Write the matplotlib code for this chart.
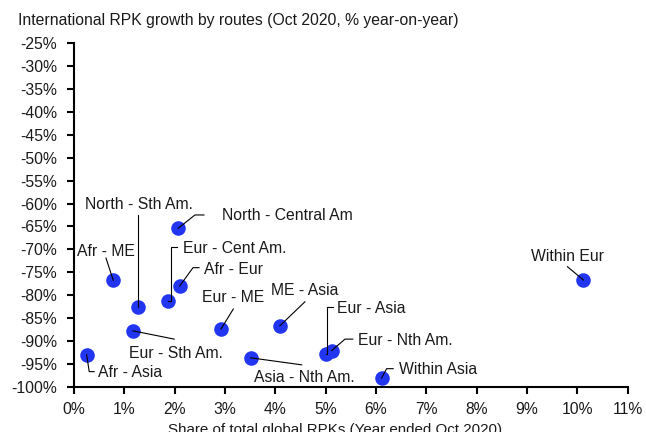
import numpy as np
import matplotlib.pyplot as plt
from matplotlib.ticker import FuncFormatter

plt.rcParams['font.family'] = ['Liberation Sans', 'DejaVu Sans']
plt.rcParams['font.size'] = 11.3

# share of global RPKs (%) and yoy growth (%)
routes = ["Afr - Asia", "Afr - ME", "North - Sth Am.", "Eur - Sth Am.",
          "Eur - Cent Am.", "Afr - Eur", "North - Central Am", "Eur - ME",
          "ME - Asia", "Asia - Nth Am.", "Eur - Asia", "Eur - Nth Am.",
          "Within Asia", "Within Eur"]
share = [0.25, 0.78, 1.28, 1.17, 1.86, 2.10, 2.07, 2.92, 4.09, 3.51, 5.01, 5.12, 6.11, 10.12]
growth = [-93.0, -76.8, -82.6, -87.8, -81.3, -78.0, -65.4, -87.4, -86.7, -93.7, -92.8, -92.1, -98.1, -76.7]

# label placement, pixels from the dot (y down): text anchor, ha, leader vertices
label_pos = {
    "Afr - Asia": ((11.6, 18), 'left', [(2.6, 17), (7.6, 17)]),
    "Afr - ME": ((-7.8, -29), 'center', [(-7.3, -22.4)]),
    "North - Sth Am.": ((0, -102.3), 'center', [(0, -92.3)]),
    "Eur - Sth Am.": ((-3.7, 22.6), 'left', [(41.3, 8.3)]),
    "Eur - Cent Am.": ((15.6, -52.7), 'left', [(3.3, 0), (3.3, -53.7), (9.6, -53.7)]),
    "Afr - Eur": ((24, -16.7), 'left', [(13.3, -18.3), (19.3, -18.3)]),
    "North - Central Am": ((43.4, -12.3), 'left', [(16.7, -13.3), (25.7, -13.3)]),
    "Eur - ME": ((12.3, -31), 'center', [(12.3, -20)]),
    "ME - Asia": ((24.7, -35), 'center', [(25, -24)]),
    "Asia - Nth Am.": ((3.3, 19.7), 'left', [(51, 7)]),
    "Eur - Asia": ((11, -45.3), 'left', [(0.6, 0), (0.6, -47), (6.6, -47)]),
    "Eur - Nth Am.": ((26, -10), 'left', [(13.3, -11.4), (21, -11.4)]),
    "Within Asia": ((17.3, -8.3), 'left', [(5, -9.3), (11.6, -9.3)]),
    "Within Eur": ((-16.1, -24), 'center', [(-16, -13.3)]),
}

fig = plt.figure(figsize=(6.46, 4.32), dpi=100)
ax = fig.add_axes([0.1146, 0.1049, 0.8571, 0.7949])

ax.scatter(share, growth, s=110, color='#2236f2', zorder=2, linewidths=0)

ax.set_xlim(0, 11)
ax.set_ylim(-100, -25)
ax.set_xticks(np.arange(0, 12, 1))
ax.set_yticks(np.arange(-100, -24, 5))
ax.xaxis.set_major_formatter(FuncFormatter(lambda v, p: f"{v:.0f}%"))
ax.yaxis.set_major_formatter(FuncFormatter(lambda v, p: f"{v:.0f}%"))

def off(x, y, dx, dy):
    px, py = ax.transData.transform((x, y))
    return ax.transData.inverted().transform((px + dx, py - dy))

for name, x, y in zip(routes, share, growth):
    (tx, ty), ha, verts = label_pos[name]
    pts = [(x, y)] + [tuple(off(x, y, vx, vy)) for vx, vy in verts]
    ax.plot([p[0] for p in pts], [p[1] for p in pts], color='black', lw=0.8,
            zorder=3, clip_on=False)
    lx, ly = off(x, y, tx, ty)
    ax.text(lx, ly, name, ha=ha, va='center', color='#1a1a1a')

for s in ['top', 'right']:
    ax.spines[s].set_visible(False)
for s in ['left', 'bottom']:
    ax.spines[s].set_linewidth(1.5)
ax.tick_params(axis='both', direction='out', length=5, width=1.5,
               colors='black', labelcolor='#1a1a1a')
ax.tick_params(axis='y', pad=7)
ax.tick_params(axis='x', pad=6)

ax.set_xlabel("Share of total global RPKs (Year ended Oct 2020)",
              color='#1a1a1a', fontsize=10.9, labelpad=4)
ax.xaxis.label.set_x((335 - 74) / 554)
fig.text(18 / 646, 1 - 20 / 432, "International RPK growth by routes (Oct 2020, % year-on-year)",
         color='#1a1a1a', va='center', ha='left')

fig.savefig("out.png", dpi=100)
